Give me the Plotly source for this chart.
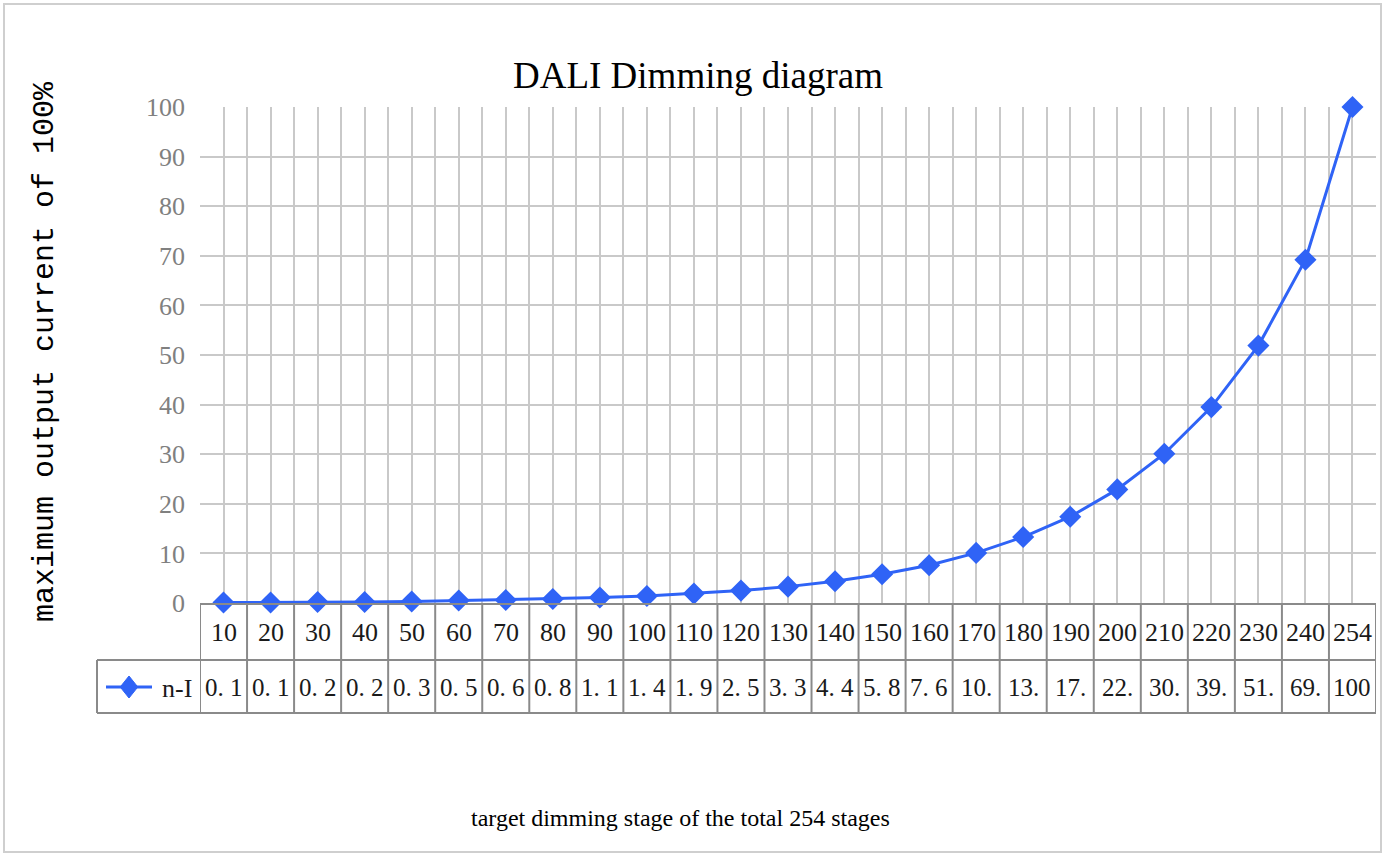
import plotly.graph_objects as go

stages = ["10", "20", "30", "40", "50", "60", "70", "80", "90", "100", "110", "120",
          "130", "140", "150", "160", "170", "180", "190", "200", "210", "220", "230", "240", "254"]
current = [0.1, 0.1, 0.2, 0.2, 0.3, 0.5, 0.6, 0.8, 1.1, 1.4, 1.9, 2.5,
           3.3, 4.4, 5.8, 7.6, 10.1, 13.3, 17.4, 22.9, 30.1, 39.5, 51.9, 69.2, 100]
table_labels = ["0. 1", "0. 1", "0. 2", "0. 2", "0. 3", "0. 5", "0. 6", "0. 8", "1. 1", "1. 4", "1. 9", "2. 5",
                "3. 3", "4. 4", "5. 8", "7. 6", "10.", "13.", "17.", "22.", "30.", "39.", "51.", "69.", "100"]
series_name = "n-I"
y_ticks = [0, 10, 20, 30, 40, 50, 60, 70, 80, 90, 100]

W, H = 1385, 857
L, R, T, B = 200, 9, 107, 254
PW, PH = W - L - R, H - T - B
N = len(stages)
YMAX = 100.0

def py(pix):  # pixel y -> paper y
    return (H - B - pix) / PH

def px(pix):  # pixel x -> paper x
    return (pix - L) / PW

SERIF = "Liberation Serif, serif"
BLUE = "#2f63f6"
GRID = "#c9c9c9"
TBL = "#8a8a8a"
TXT = "#1a1a1a"

idx = list(range(N))

fig = go.Figure()
fig.add_trace(go.Scatter(
    x=idx, y=current, mode="lines+markers", name=series_name,
    line=dict(color=BLUE, width=3),
    marker=dict(symbol="diamond", size=17, color=BLUE),
    cliponaxis=False, showlegend=False,
))

shapes = []
annotations = []
row1_top, row1_bot, row2_bot = 603, 660, 713
for yy in (row1_bot, row2_bot):
    shapes.append(dict(type="line", xref="paper", yref="paper", x0=px(97), x1=1, y0=py(yy), y1=py(yy),
                       line=dict(color=TBL, width=2)))
shapes.append(dict(type="line", xref="paper", yref="paper", x0=px(97), x1=px(97), y0=py(row1_bot), y1=py(row2_bot),
                   line=dict(color=TBL, width=2)))
for k in range(N + 1):
    shapes.append(dict(type="line", xref="x", yref="paper", x0=k - 0.5, x1=k - 0.5,
                       y0=py(row1_top), y1=py(row2_bot), line=dict(color=TBL, width=2)))
shapes.append(dict(type="rect", xref="paper", yref="paper", x0=px(4), x1=px(1381), y0=py(4), y1=py(852),
                   line=dict(color="#cfcfcf", width=2)))
# legend key: line + diamond
kx, ky, kr = 129, 687, 11
shapes.append(dict(type="line", xref="paper", yref="paper", x0=px(106), x1=px(152),
                   y0=py(ky), y1=py(ky), line=dict(color=BLUE, width=3)))
shapes.append(dict(type="path", xref="paper", yref="paper",
                   path=f"M {px(kx)},{py(ky - kr)} L {px(kx + kr * 0.8)},{py(ky)} L {px(kx)},{py(ky + kr)} "
                        f"L {px(kx - kr * 0.8)},{py(ky)} Z",
                   fillcolor=BLUE, line=dict(color=BLUE, width=1)))

def ann(x, y, text, size, color=TXT, xref="paper", family=SERIF, **kw):
    annotations.append(dict(x=x, y=y, xref=xref, yref="paper", text=text, showarrow=False,
                            xanchor=kw.pop("xanchor", "center"), yanchor="middle",
                            font=dict(family=family, size=size, color=color), **kw))

for i, s in enumerate(stages):
    ann(i, py((row1_top + row1_bot) / 2 + 1), s, 26, xref="x")
    ann(i, py((row1_bot + row2_bot) / 2 + 1), table_labels[i], 25, xref="x")

ann(px(160), py(688), series_name, 26, xanchor="left")
ann(px(698), py(75), "DALI Dimming diagram", 37, color="#000000")
ann(px(680), py(818), "target dimming stage of the total 254 stages", 24, color="#000000")
ann(px(45), py(352), "maximum output current of 100%", 30, color="#000000",
    family="Liberation Mono, DejaVu Sans Mono, monospace", textangle=-90)

fig.update_layout(
    width=W, height=H,
    margin=dict(l=L, r=R, t=T, b=B),
    paper_bgcolor="white", plot_bgcolor="white",
    shapes=shapes, annotations=annotations,
    xaxis=dict(range=[-0.5, N - 0.5], tickmode="linear", tick0=-0.5, dtick=1,
               showticklabels=False, showgrid=True, gridcolor=GRID, gridwidth=2,
               minor=dict(tick0=0, dtick=1, showgrid=True, gridcolor=GRID, gridwidth=2),
               zeroline=False, showline=True, linecolor=TBL, linewidth=2, mirror=False),
    yaxis=dict(range=[0, YMAX], tickvals=y_ticks, showgrid=True, gridcolor=GRID, gridwidth=2,
               zeroline=False, showline=False, ticks="", ticklabelstandoff=14,
               tickfont=dict(family=SERIF, size=26, color="#808080")),
)

fig.write_html("out.html", config={"displayModeBar": False},
               post_script="document.body.style.margin='0';document.body.style.overflow='hidden';")
